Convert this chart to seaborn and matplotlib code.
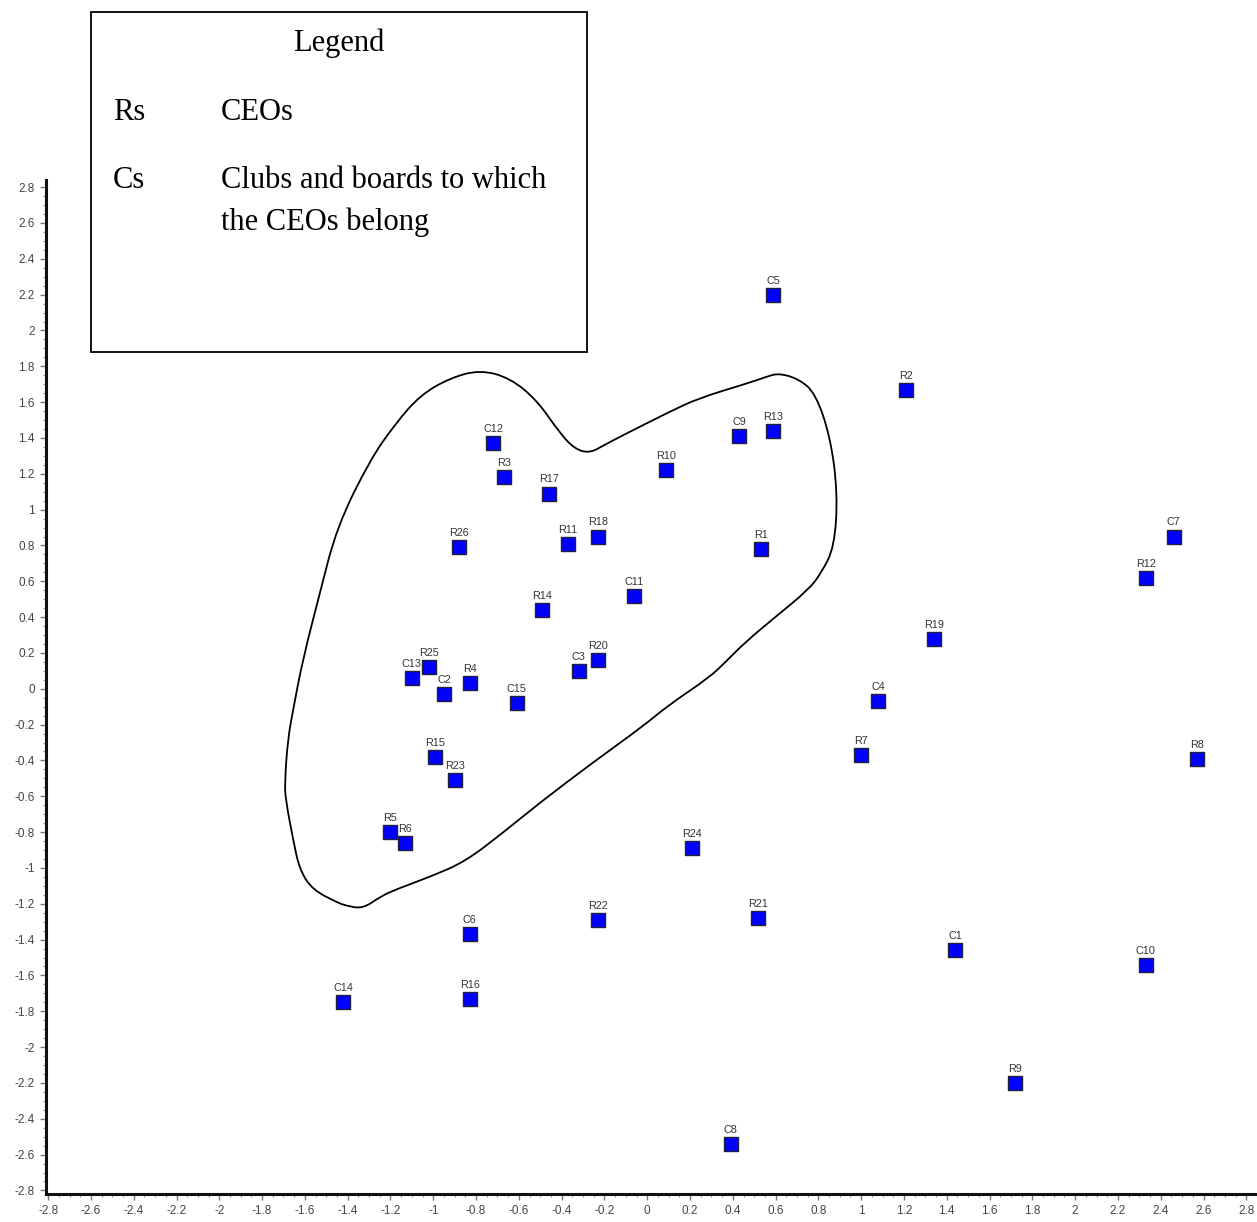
import seaborn as sns
import matplotlib.pyplot as plt
import matplotlib.patches as mpatches
from matplotlib.path import Path
from matplotlib.ticker import MultipleLocator, FuncFormatter
import pandas as pd

# Node coordinates
labels = ['C5', 'R2', 'C9', 'R13', 'C12', 'R3', 'R10', 'R17', 'R11', 'R18',
          'R26', 'R1', 'C7', 'R12', 'C11', 'R14', 'R19', 'R20', 'C3', 'R25',
          'C13', 'R4', 'C2', 'C15', 'C4', 'R7', 'R8', 'R15', 'R23', 'R5',
          'R6', 'R24', 'R22', 'R21', 'C6', 'C1', 'C10', 'C14', 'R16', 'R9', 'C8']
x_vals = [0.59, 1.21, 0.43, 0.59, -0.72, -0.67, 0.09, -0.46, -0.37, -0.23,
          -0.88, 0.53, 2.46, 2.33, -0.06, -0.49, 1.34, -0.23, -0.32, -1.02,
          -1.10, -0.83, -0.95, -0.61, 1.08, 1.00, 2.57, -0.99, -0.90, -1.20,
          -1.13, 0.21, -0.23, 0.52, -0.83, 1.44, 2.33, -1.42, -0.83, 1.72, 0.39]
y_vals = [2.20, 1.67, 1.41, 1.44, 1.37, 1.18, 1.22, 1.09, 0.81, 0.85,
          0.79, 0.78, 0.85, 0.62, 0.52, 0.44, 0.28, 0.16, 0.10, 0.12,
          0.06, 0.03, -0.03, -0.08, -0.07, -0.37, -0.39, -0.38, -0.51, -0.80,
          -0.86, -0.89, -1.29, -1.28, -1.37, -1.46, -1.54, -1.75, -1.73, -2.20, -2.54]

# Hand-drawn cluster outline (closed), control points
hull_x = [-0.781, -0.642, -0.516, -0.409, -0.340, -0.270, -0.200, -0.130, 0.102, 0.242,
          0.474, 0.553, 0.614, 0.707, 0.786, 0.856, 0.890, 0.875, 0.814, 0.753,
          0.600, 0.460, 0.367, 0.288, 0.102, -0.023, -0.256, -0.502, -0.674, -0.851,
          -1.014, -1.177, -1.247, -1.330, -1.409, -1.447, -1.565, -1.625, -1.655, -1.690,
          -1.694, -1.680, -1.655, -1.610, -1.530, -1.450, -1.296, -1.177, -1.060, -0.921]
hull_y = [1.780, 1.735, 1.612, 1.428, 1.340, 1.315, 1.361, 1.405, 1.545, 1.623,
          1.707, 1.740, 1.762, 1.730, 1.651, 1.405, 1.093, 0.792, 0.647, 0.552,
          0.402, 0.262, 0.151, 0.061, -0.089, -0.212, -0.413, -0.636, -0.803, -0.965,
          -1.049, -1.121, -1.160, -1.228, -1.210, -1.194, -1.121, -1.009, -0.842, -0.619,
          -0.524, -0.284, -0.117, 0.162, 0.535, 0.904, 1.277, 1.480, 1.640, 1.735]

df = pd.DataFrame({'label': labels, 'x': x_vals, 'y': y_vals})

sns.set_style("white")
plt.rcParams['font.family'] = ['Liberation Sans', 'DejaVu Sans']
plt.rcParams['axes.unicode_minus'] = False

W, H = 1257, 1222
fig = plt.figure(figsize=(W / 100, H / 100), dpi=100)
ax = fig.add_axes([46 / W, 1 - 1194 / H, 1 - 46 / W, (1194 - 180) / H])

# smooth closed outline: quadratic segments through the midpoints of the control polygon
pts = list(zip(hull_x, hull_y))
n = len(pts)
mids = [((pts[i][0] + pts[(i + 1) % n][0]) / 2, (pts[i][1] + pts[(i + 1) % n][1]) / 2)
        for i in range(n)]
verts = [mids[-1]]
codes = [Path.MOVETO]
for i in range(n):
    verts += [pts[i], mids[i]]
    codes += [Path.CURVE3, Path.CURVE3]
outline = mpatches.PathPatch(Path(verts, codes), facecolor='none', edgecolor='black',
                             linewidth=1.3, zorder=1)
ax.add_patch(outline)

sns.scatterplot(data=df, x='x', y='y', marker='s', s=90, color='#0000ff',
                edgecolor='#202040', linewidth=1, ax=ax, zorder=3, legend=False)

for lab, xv, yv in zip(labels, x_vals, y_vals):
    ax.annotate(lab, (xv, yv), xytext=(0, 6.5), textcoords='offset points',
                ha='center', va='bottom', fontsize=7.8, color='#333333')

ax.set_xlim(-2.81, 2.85)
ax.set_ylim(-2.82, 2.84)
ax.set_xlabel('')
ax.set_ylabel('')

fmt = FuncFormatter(lambda v, p: f'{round(v, 1):g}' if abs(v) > 1e-9 else '0')
for axis in (ax.xaxis, ax.yaxis):
    axis.set_major_locator(MultipleLocator(0.2))
    axis.set_minor_locator(MultipleLocator(0.05))
    axis.set_major_formatter(fmt)

ax.tick_params(which='major', direction='out', length=4, width=1, color='#777777',
               labelsize=8.5, labelcolor='#444444', pad=4,
               bottom=True, left=True)
ax.tick_params(which='minor', direction='out', length=2.5, width=0.8, color='#999999',
               bottom=True, left=True)

sns.despine(ax=ax, top=True, right=True)
for side in ('left', 'bottom'):
    ax.spines[side].set_color('#111111')
    ax.spines[side].set_linewidth(2.2)

# Legend box drawn over the plot
box = mpatches.Rectangle((91 / W, 1 - 352 / H), (587 - 91) / W, (352 - 12) / H,
                         transform=fig.transFigure, facecolor='white',
                         edgecolor='black', linewidth=1.3, zorder=5)
fig.add_artist(box)

serif = ['Liberation Serif', 'DejaVu Serif']
fs = 22
txt = dict(fontsize=fs, family=serif, color='black', va='center', zorder=6)
fig.text(339 / W, 1 - 43 / H, 'Legend', ha='center', **txt)
fig.text(113 / W, 1 - 112 / H, 'Rs', ha='left', **txt)
fig.text(221 / W, 1 - 112 / H, 'CEOs', ha='left', **txt)
fig.text(113 / W, 1 - 180 / H, 'Cs', ha='left', **txt)
fig.text(221 / W, 1 - 180 / H, 'Clubs and boards to which', ha='left', **txt)
fig.text(221 / W, 1 - 222 / H, 'the CEOs belong', ha='left', **txt)

fig.savefig('out.png', dpi=100)
